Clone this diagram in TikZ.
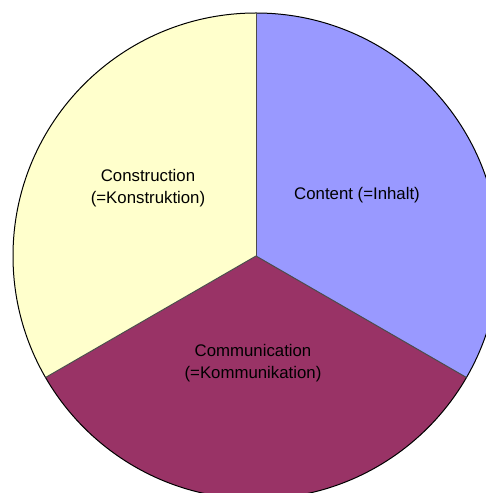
\documentclass[tikz,border=0pt]{standalone}
\usepackage{fontspec}
\setmainfont{Liberation Sans}
\definecolor{pieyellow}{HTML}{FFFFCC}
\definecolor{pieblue}{HTML}{9999FF}
\definecolor{piemaroon}{HTML}{993366}
\begin{document}
\begin{tikzpicture}[x=1pt,y=1pt,
  slice/.style={draw=black!70, line width=1pt, line join=round},
  lbl/.style={font=\fontsize{16.8}{22}\selectfont, align=center, text=black, inner sep=0pt}]
\useasboundingbox (0,0) rectangle (486,493);
\clip (0,0) rectangle (486,493);
\coordinate (c) at (256,237);
\fill[pieblue] (c) -- ++(90:243) arc[start angle=90, end angle=-30, radius=243] -- cycle;
\fill[piemaroon] (c) -- ++(-30:243) arc[start angle=-30, end angle=-150, radius=243] -- cycle;
\fill[pieyellow] (c) -- ++(210:243) arc[start angle=210, end angle=90, radius=243] -- cycle;
\draw[black, line width=1pt] (c) circle[radius=243];
\draw[slice] (c) -- ++(90:243);
\draw[slice] (c) -- ++(-30:243);
\draw[slice] (c) -- ++(210:243);
\node[lbl] (constr) at (148,305) {Construction\\(=Konstruktion)};
\node[lbl] (content) at (357,298) {Content (=Inhalt)};
\node[lbl] (comm) at (253,130) {Communication\\(=Kommunikation)};
\end{tikzpicture}
\end{document}
